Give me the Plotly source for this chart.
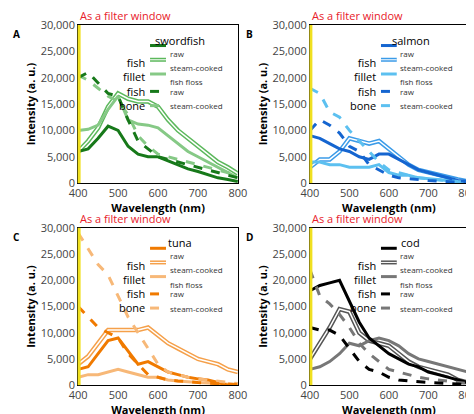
import plotly.graph_objects as go
from plotly.subplots import make_subplots

wavelength = [400, 425, 450, 475, 500, 525, 550, 575, 600, 625, 650, 675, 700, 725, 750, 775, 800]

# swordfish
sword_fillet_raw = [6000, 6500, 8500, 10800, 10000, 7000, 5500, 5000, 5000, 4200, 3500, 2700, 2200, 1600, 1000, 700, 300]
sword_fillet_steam = [6000, 8000, 10500, 14500, 17000, 16000, 15500, 15500, 14500, 12000, 10000, 8500, 7000, 5500, 4000, 3000, 1800]
sword_floss = [10000, 10200, 11000, 14000, 16500, 12000, 11200, 11000, 10500, 9000, 7500, 6000, 5000, 4000, 3000, 2000, 1000]
sword_bone_raw = [20000, 21000, 19000, 17000, 16500, 12000, 8000, 6500, 5000, 4500, 4000, 3500, 3000, 2500, 2000, 1500, 1000]
sword_bone_steam = [20500, 19500, 18000, 16500, 15500, 13000, 9000, 7000, 5500, 5000, 4500, 4000, 3500, 3000, 2500, 2000, 1500]

# salmon
salmon_fillet_raw = [9000, 8500, 7500, 6500, 6000, 5000, 4500, 5500, 5500, 4500, 3500, 2500, 2000, 1500, 1000, 500, 300]
salmon_fillet_steam = [3000, 4500, 4500, 6000, 8500, 8000, 7500, 8000, 6500, 5000, 3500, 2500, 2000, 1500, 1000, 700, 300]
salmon_floss = [4000, 4000, 3500, 3500, 3000, 3000, 3000, 3500, 2000, 1500, 1500, 1000, 800, 700, 500, 300, 200]
salmon_bone_raw = [10000, 12000, 11000, 9500, 7000, 6000, 3500, 2500, 1500, 1000, 800, 600, 500, 400, 300, 200, 100]
salmon_bone_steam = [18000, 17000, 13500, 12500, 10000, 8000, 6000, 4000, 2500, 2000, 1500, 1000, 800, 600, 400, 300, 200]

# tuna
tuna_fillet_raw = [3000, 3500, 6000, 8500, 9000, 6500, 4000, 4500, 3500, 2500, 2000, 1500, 1200, 1000, 500, 0, 0]
tuna_fillet_steam = [4000, 5500, 8000, 10500, 10500, 10500, 10500, 11000, 9500, 8000, 7000, 6000, 5000, 4500, 4000, 3000, 2500]
tuna_floss = [1500, 2000, 2000, 2500, 3000, 2500, 2000, 1500, 1500, 1000, 800, 600, 500, 400, 300, 200, 100]
tuna_bone_raw = [15000, 13000, 11000, 10000, 9000, 6000, 4000, 2000, 1500, 1000, 800, 600, 500, 400, 300, 200, 100]
tuna_bone_steam = [29000, 26000, 23000, 21000, 17000, 13000, 10000, 7000, 4000, 2500, 2000, 1500, 1200, 1000, 700, 500, 300]

# cod
cod_fillet_raw = [18000, 19000, 19500, 20000, 16000, 12000, 9000, 7500, 6000, 5000, 4000, 3500, 2500, 2000, 1500, 1000, 500]
cod_fillet_steam = [5000, 8000, 11000, 14500, 14000, 10000, 8500, 8000, 7500, 6000, 4500, 3500, 3000, 2500, 2000, 1000, 500]
cod_floss = [3000, 3500, 4500, 6000, 8000, 7500, 8500, 9000, 8500, 7500, 6000, 5000, 4500, 4000, 3500, 3000, 2500]
cod_bone_raw = [11000, 10500, 10500, 9500, 7000, 4500, 3000, 2500, 1500, 1000, 800, 600, 500, 400, 300, 200, 100]
cod_bone_steam = [22000, 17000, 15500, 13500, 11000, 8000, 6000, 4500, 3000, 2500, 2000, 1500, 1200, 1000, 800, 500, 300]

panels = [
    ("A", "swordfish", 1, 1, "#17791a", "#5cb85c", "#86c986",
     [sword_fillet_raw, sword_fillet_steam, sword_floss, sword_bone_raw, sword_bone_steam]),
    ("B", "salmon", 1, 2, "#1565d0", "#3b9be8", "#5cc0f0",
     [salmon_fillet_raw, salmon_fillet_steam, salmon_floss, salmon_bone_raw, salmon_bone_steam]),
    ("C", "tuna", 2, 1, "#f07a00", "#f5a04a", "#f7b878",
     [tuna_fillet_raw, tuna_fillet_steam, tuna_floss, tuna_bone_raw, tuna_bone_steam]),
    ("D", "cod", 2, 2, "#000000", "#555555", "#777777",
     [cod_fillet_raw, cod_fillet_steam, cod_floss, cod_bone_raw, cod_bone_steam]),
]

fig = make_subplots(rows=2, cols=2)
font = "Open Sans"

for idx, (letter, fish, r, c, dark, mid, light, series) in enumerate(panels):
    f_raw, f_steam, floss, b_raw, b_steam = series
    # steam-cooked fillet: double line (wide colour + white core)
    fig.add_trace(go.Scatter(x=wavelength, y=f_steam, mode="lines", line=dict(color=mid, width=4.5), showlegend=False), row=r, col=c)
    fig.add_trace(go.Scatter(x=wavelength, y=f_steam, mode="lines", line=dict(color="white", width=1.5), showlegend=False), row=r, col=c)
    fig.add_trace(go.Scatter(x=wavelength, y=floss, mode="lines", line=dict(color=light, width=3), showlegend=False), row=r, col=c)
    fig.add_trace(go.Scatter(x=wavelength, y=f_raw, mode="lines", line=dict(color=dark, width=3), showlegend=False), row=r, col=c)
    fig.add_trace(go.Scatter(x=wavelength, y=b_steam, mode="lines", line=dict(color=light, width=3, dash="dash"), showlegend=False), row=r, col=c)
    fig.add_trace(go.Scatter(x=wavelength, y=b_raw, mode="lines", line=dict(color=dark, width=3, dash="dash"), showlegend=False), row=r, col=c)

    n = "" if idx == 0 else str(idx + 1)
    xd, yd = "x%s domain" % n, "y%s domain" % n
    # yellow filter window line
    fig.add_shape(type="line", xref=xd, yref=yd, x0=0.006, x1=0.006, y0=0, y1=1, line=dict(color="#f0e020", width=3))
    # legend samples
    rows = [(0.87, dark, "solid", "raw", False), (0.78, mid, "solid", "steam-cooked", True),
            (0.69, light, "solid", "fish floss", False), (0.58, dark, "dash", "raw", False),
            (0.49, light, "dash", "steam-cooked", False)]
    for yy, col, dash, txt, dbl in rows:
        fig.add_shape(type="line", xref=xd, yref=yd, x0=0.45, x1=0.55, y0=yy, y1=yy,
                      line=dict(color=col, width=4 if dbl else 3, dash=dash))
        if dbl:
            fig.add_shape(type="line", xref=xd, yref=yd, x0=0.45, x1=0.55, y0=yy, y1=yy, line=dict(color="white", width=1))
        fig.add_annotation(xref=xd, yref=yd, x=0.56, y=yy, text=txt, showarrow=False, xanchor="left",
                           font=dict(family=font, size=8, color="#333"))
    fig.add_annotation(xref=xd, yref=yd, x=0.64, y=0.965, text=fish, showarrow=False,
                       font=dict(family=font, size=11, color="black"))
    fig.add_annotation(xref=xd, yref=yd, x=0.43, y=0.82, text="fish<br>fillet", showarrow=False, xanchor="right",
                       align="right", font=dict(family=font, size=11, color="black"))
    fig.add_annotation(xref=xd, yref=yd, x=0.43, y=0.535, text="fish<br>bone", showarrow=False, xanchor="right",
                       align="right", font=dict(family=font, size=11, color="black"))
    fig.add_annotation(xref=xd, yref=yd, x=0.0, y=1.0, yanchor="bottom", xanchor="left", text="As a filter window",
                       showarrow=False, font=dict(family=font, size=11, color="#e8202a"))
    fig.add_annotation(xref=xd, yref=yd, x=-0.42, y=1.0, xanchor="left", text="<b>%s</b>" % letter,
                       showarrow=False, font=dict(family=font, size=10, color="black"))

fig.update_xaxes(range=[400, 800], tickvals=[400, 500, 600, 700, 800], showline=True, linecolor="black", mirror=True,
                 showgrid=False, ticks="", tickfont=dict(family=font, size=11, color="#444"),
                 title=dict(text="<b>Wavelength (nm)</b>", font=dict(family=font, size=11, color="black"), standoff=0))
fig.update_yaxes(range=[0, 30000], tickvals=[0, 5000, 10000, 15000, 20000, 25000, 30000], tickformat=",",
                 showline=True, linecolor="black", mirror=True, showgrid=False, ticks="", zeroline=False,
                 tickfont=dict(family=font, size=11, color="#444"),
                 title=dict(text="<b>Intensity (a. u.)</b>", font=dict(family=font, size=11, color="black"), standoff=2))

fig.update_layout(
    width=474, height=414, margin=dict(l=0, r=0, t=0, b=0, autoexpand=False), plot_bgcolor="white", paper_bgcolor="white",
    xaxis=dict(domain=[0.148, 0.485]), xaxis2=dict(domain=[0.637, 0.970]),
    xaxis3=dict(domain=[0.148, 0.485]), xaxis4=dict(domain=[0.637, 0.970]),
    yaxis=dict(domain=[0.577, 0.959]), yaxis2=dict(domain=[0.577, 0.959]),
    yaxis3=dict(domain=[0.089, 0.469]), yaxis4=dict(domain=[0.089, 0.469]),
)
fig.write_html("out.html")
